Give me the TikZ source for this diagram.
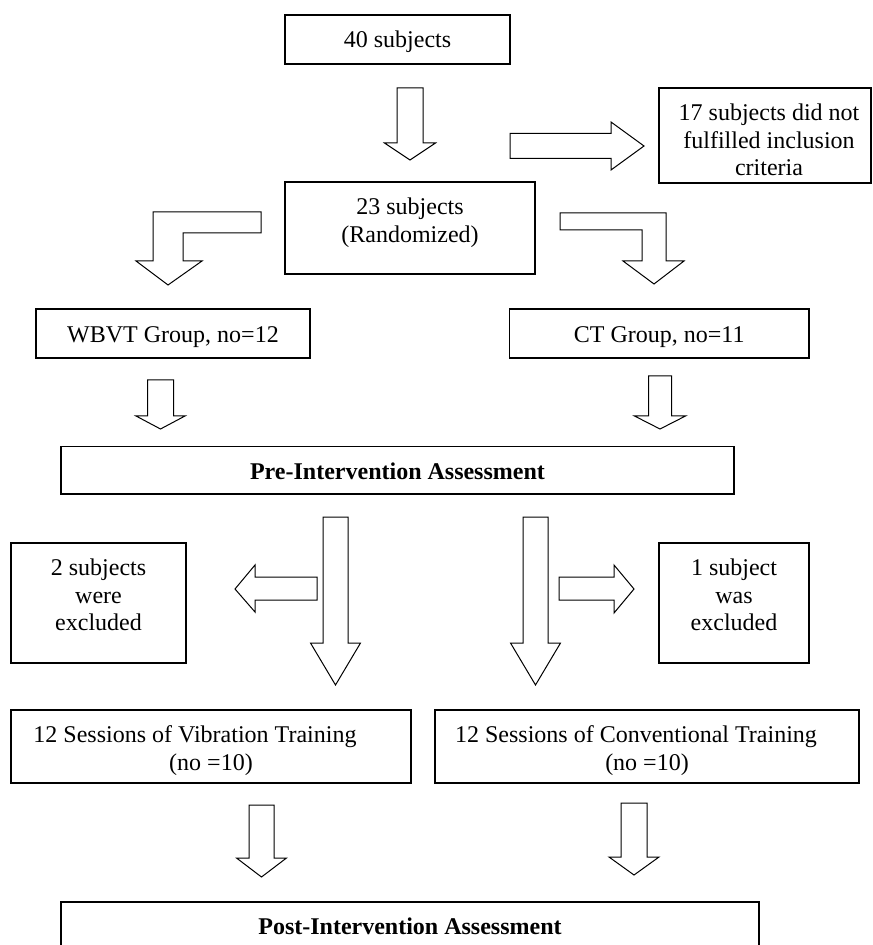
\documentclass[tikz,border=0pt]{standalone}
\usepackage{fontspec}
\setmainfont{Liberation Serif}
\begin{document}
\begin{tikzpicture}[x=0.5pt,y=-0.5pt,
  box/.style={draw, line width=0.85pt, fill=white, inner sep=0pt, align=center,
    anchor=north, font=\fontsize{12}{13.75}\selectfont},
  sz/.style n args={3}{minimum width=#1, text height=#2, text depth=#3},
  blk/.style={draw, line width=0.5pt, fill=white, line join=miter}]
\useasboundingbox (0,0) rectangle (872,945);
\newcommand\bdown[6]{% x, shaft half, top, head base, tip, head half
  \draw[blk] (#1-#2,#3) -- (#1+#2,#3) -- (#1+#2,#4) -- (#1+#6,#4) -- (#1,#5)
    -- (#1-#6,#4) -- (#1-#2,#4) -- cycle;}
% boxes (anchored at their top edge)
\node[box, sz={112.5pt}{16.5pt}{8pt}] (n40) at (397.5,14) {40 subjects};
\node[box, sz={106pt}{44pt}{3.75pt}] (n17) at (765,87)
  {\hspace*{4pt}17 subjects did not\\\hspace*{4pt}fulfilled inclusion\\\hspace*{4pt}criteria};
\node[box, sz={125pt}{30.25pt}{15.75pt}] (n23) at (410,181) {23 subjects\\(Randomized)};
\node[box, sz={137pt}{16.5pt}{7.75pt}] (wb) at (173,308.5) {WBVT Group, no=12};
\node[box, sz={149.75pt}{16.5pt}{7.75pt}] (ct) at (659.25,308.5) {CT Group, no=11};
\node[box, sz={336.5pt}{16.5pt}{7.25pt}] (pre) at (397.5,445.5) {\textbf{Pre-Intervention Assessment}};
\node[box, sz={87.5pt}{44pt}{16pt}] (ex2) at (98.5,542) {2 subjects\\were\\excluded};
\node[box, sz={75pt}{44pt}{16pt}] (ex1) at (734,542) {1 subject\\was\\excluded};
\node[box, sz={200pt}{30.25pt}{6.25pt}] (vib) at (211,709)
  {12 Sessions of Vibration Training\hspace*{16pt}\\(no =10)};
\node[box, sz={212pt}{30.25pt}{6.25pt}] (conv) at (647,709)
  {12 Sessions of Conventional Training\hspace*{11pt}\\(no =10)};
\node[box, sz={349pt}{16.5pt}{13pt}] (post) at (410,901) {\textbf{Post-Intervention Assessment}};
% block arrows
\bdown{410}{13}{88}{143}{160}{25.5}
\bdown{160.5}{13}{380}{416}{429}{24.5}
\bdown{660}{11.5}{376}{416}{429}{25.5}
\bdown{335.5}{12.5}{517}{643}{685}{25}
\bdown{535.5}{12.5}{517}{643}{685}{25}
\bdown{261.5}{12.5}{805}{858}{877}{25}
\bdown{634}{13}{803}{857}{875}{25}
% right arrow to 17
\draw[blk] (510,133.5) -- (611,133.5) -- (611,122) -- (644,146) -- (611,170) -- (611,158.5) -- (510,158.5) -- cycle;
% small side arrows
\draw[blk] (317,577) -- (255,577) -- (255,565) -- (235,589) -- (255,612) -- (255,600) -- (317,600) -- cycle;
\draw[blk] (559,577) -- (614,577) -- (614,565) -- (634,589) -- (614,613) -- (614,600) -- (559,600) -- cycle;
% bent arrows
\draw[blk] (261,212) -- (153,212) -- (153,261) -- (136,261) -- (168,285) -- (202,261) -- (183,261) -- (183,233) -- (261,233) -- cycle;
\draw[blk] (560,213) -- (666,213) -- (666,261) -- (684,261) -- (654,284) -- (623,261) -- (642,261) -- (642,230) -- (560,230) -- cycle;
\end{tikzpicture}
\end{document}
